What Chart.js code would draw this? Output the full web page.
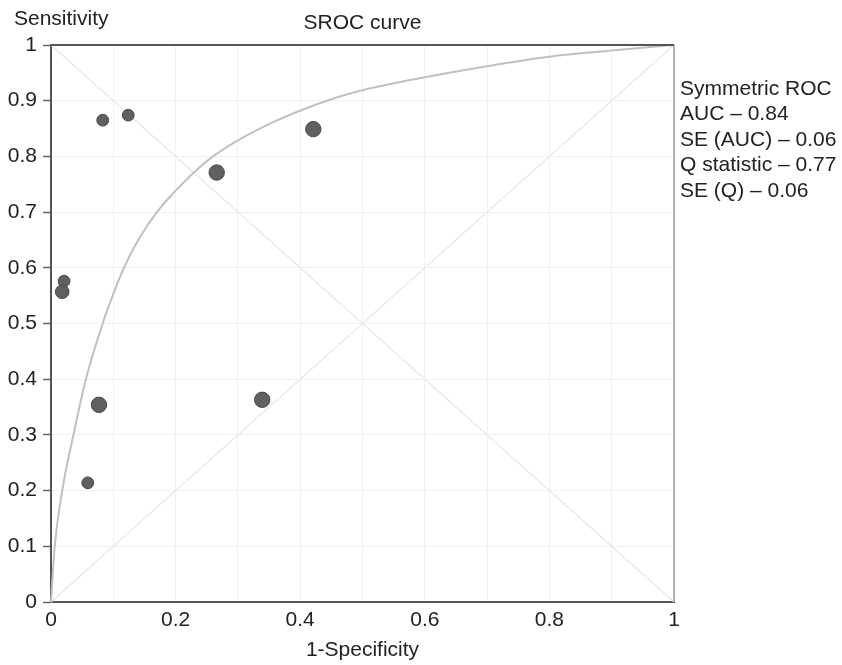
<!DOCTYPE html>
<html>
<head>
<meta charset="utf-8">
<title>SROC curve</title>
<script src="https://cdn.jsdelivr.net/npm/chart.js@4.4.1/dist/chart.umd.min.js"></script>
<style>
  html, body { margin: 0; padding: 0; background: #fff; }
  #wrap { width: 842px; height: 665px; position: relative; }
</style>
</head>
<body>
<div id="wrap"><canvas id="sroc"></canvas></div>
<script>
// Estudios: 1-especificidad, sensibilidad y tamaño relativo del estudio
const studyFpr  = [0.083, 0.124, 0.421, 0.266, 0.021, 0.018, 0.077, 0.339, 0.059];
const studySens = [0.865, 0.874, 0.849, 0.771, 0.576, 0.557, 0.354, 0.363, 0.214];
const studyWeight = [1, 1, 3, 3, 1, 2, 3, 3, 1];

// Curva SROC simétrica
const curveFpr  = [0, 0.006, 0.018, 0.036, 0.056, 0.083, 0.099, 0.117, 0.14, 0.17, 0.21, 0.26, 0.335, 0.43, 0.49, 0.576, 0.70, 0.80, 0.90, 1];
const curveSens = [0, 0.1, 0.2, 0.3, 0.4, 0.5, 0.55, 0.6, 0.65, 0.7, 0.75, 0.8, 0.85, 0.895, 0.916, 0.937, 0.962, 0.979, 0.99, 1];

// Texto de resumen
const statsLines = ['Symmetric ROC', 'AUC \u2013 0.84', 'SE (AUC) \u2013 0.06', 'Q statistic \u2013 0.77', 'SE (Q) \u2013 0.06'];

const FONT = '"Liberation Sans", Arial, Helvetica, sans-serif';
const TEXT = '#222';

function pares(xs, ys) {
    return xs.map((x, i) => ({ x: x, y: ys[i] }));
}

// Marco, diagonales y textos
const extras = {
    id: 'extras',
    beforeDatasetsDraw(chart) {
        const { ctx, scales } = chart;
        const x = scales.x, y = scales.y;
        ctx.save();
        ctx.strokeStyle = '#e9e9e9';
        ctx.lineWidth = 1.5;
        ctx.beginPath();
        ctx.moveTo(x.getPixelForValue(0), y.getPixelForValue(0));
        ctx.lineTo(x.getPixelForValue(1), y.getPixelForValue(1));
        ctx.moveTo(x.getPixelForValue(0), y.getPixelForValue(1));
        ctx.lineTo(x.getPixelForValue(1), y.getPixelForValue(0));
        ctx.stroke();
        ctx.restore();
    },
    afterDraw(chart) {
        const { ctx, chartArea: a } = chart;
        ctx.save();
        // borde derecho claro, borde superior oscuro
        ctx.strokeStyle = '#9a9a9a';
        ctx.lineWidth = 1.5;
        ctx.beginPath();
        ctx.moveTo(a.right, a.top);
        ctx.lineTo(a.right, a.bottom);
        ctx.stroke();
        ctx.strokeStyle = '#555';
        ctx.lineWidth = 2;
        ctx.beginPath();
        ctx.moveTo(a.left, a.top);
        ctx.lineTo(a.right, a.top);
        ctx.stroke();

        ctx.fillStyle = TEXT;
        ctx.font = '21px ' + FONT;
        ctx.textBaseline = 'middle';
        ctx.textAlign = 'left';
        ctx.fillText('Sensitivity', 14, 19);
        ctx.textAlign = 'center';
        ctx.fillText('SROC curve', (a.left + a.right) / 2, 23);
        ctx.textAlign = 'left';
        statsLines.forEach((t, i) => ctx.fillText(t, a.right + 6, 89 + i * 25.5));
        ctx.restore();
    }
};

const ctx = document.getElementById('sroc').getContext('2d');
new Chart(ctx, {
    type: 'scatter',
    data: {
        datasets: [
            {
                label: 'Studies',
                data: pares(studyFpr, studySens),
                backgroundColor: '#606060',
                borderColor: '#474747',
                borderWidth: 1,
                pointRadius: studyWeight.map(w => 5 + w * 0.9)
            },
            {
                label: 'SROC',
                data: pares(curveFpr, curveSens),
                showLine: true,
                borderColor: '#c0c0c0',
                borderWidth: 2,
                pointRadius: 0,
                cubicInterpolationMode: 'monotone',
                clip: false
            }
        ]
    },
    options: {
        responsive: true,
        maintainAspectRatio: false,
        animation: false,
        layout: { padding: { top: 45, right: 168, left: 0, bottom: 0 } },
        plugins: {
            legend: { display: false },
            tooltip: { enabled: false },
            title: { display: false }
        },
        scales: {
            x: {
                type: 'linear',
                min: 0,
                max: 1,
                afterFit: s => { s.height = 63; },
                ticks: {
                    stepSize: 0.1,
                    padding: 6,
                    color: TEXT,
                    font: { size: 21, family: FONT },
                    maxRotation: 0,
                    autoSkip: false,
                    callback: (v, i) => (i % 2 === 0 ? String(+v.toFixed(1)) : '')
                },
                grid: { color: '#f0f0f0', lineWidth: 1, drawTicks: false },
                border: { color: '#555', width: 2 },
                title: {
                    display: true,
                    text: '1-Specificity',
                    color: TEXT,
                    font: { size: 21, family: FONT },
                    padding: { top: 0, bottom: 2 }
                }
            },
            y: {
                type: 'linear',
                min: 0,
                max: 1,
                afterFit: s => { s.width = 51; },
                ticks: {
                    stepSize: 0.1,
                    padding: 6,
                    color: TEXT,
                    font: { size: 21, family: FONT },
                    autoSkip: false,
                    callback: v => String(+v.toFixed(1))
                },
                grid: { color: '#f0f0f0', lineWidth: 1, tickLength: 8, tickColor: '#666', tickWidth: 1.5 },
                border: { color: '#555', width: 2 }
            }
        }
    },
    plugins: [extras]
});
</script>
</body>
</html>
